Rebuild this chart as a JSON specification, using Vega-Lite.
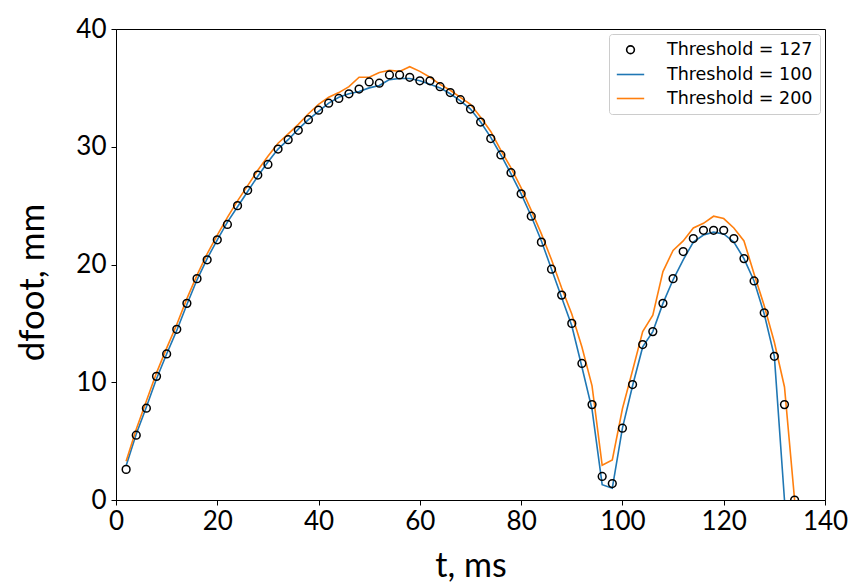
{
  "$schema": "https://vega.github.io/schema/vega-lite/v6.json",
  "width": 709,
  "height": 471,
  "autosize": {"type": "none"},
  "padding": {"left": 116, "top": 29, "right": 23, "bottom": 82},
  "background": "white",
  "config": {
    "view": {"stroke": "black", "strokeWidth": 1},
    "axis": {
      "grid": false,
      "domainColor": "black",
      "domainWidth": 1,
      "tickColor": "black",
      "tickSize": 5,
      "labelFont": "Lato",
      "labelFontSize": 26,
      "labelColor": "black",
      "titleFont": "Lato",
      "titleFontWeight": "normal",
      "titleColor": "black"
    },
    "legend": {
      "labelFont": "DejaVu Sans",
      "labelFontSize": 17.5,
      "labelColor": "black",
      "labelLimit": 400
    }
  },
  "data": {
    "values": [
      {"t": 2, "Threshold = 127": 2.6, "Threshold = 100": 2.9, "Threshold = 200": 3.3},
      {"t": 4, "Threshold = 127": 5.5, "Threshold = 100": 5.6, "Threshold = 200": 6.0},
      {"t": 6, "Threshold = 127": 7.8, "Threshold = 100": 7.9, "Threshold = 200": 8.4},
      {"t": 8, "Threshold = 127": 10.5, "Threshold = 100": 10.3, "Threshold = 200": 10.8},
      {"t": 10, "Threshold = 127": 12.4, "Threshold = 100": 12.4, "Threshold = 200": 12.9},
      {"t": 12, "Threshold = 127": 14.5, "Threshold = 100": 14.4, "Threshold = 200": 14.9},
      {"t": 14, "Threshold = 127": 16.7, "Threshold = 100": 16.6, "Threshold = 200": 17.1},
      {"t": 16, "Threshold = 127": 18.8, "Threshold = 100": 18.7, "Threshold = 200": 19.1},
      {"t": 18, "Threshold = 127": 20.4, "Threshold = 100": 20.5, "Threshold = 200": 20.9},
      {"t": 20, "Threshold = 127": 22.1, "Threshold = 100": 22.1, "Threshold = 200": 22.5},
      {"t": 22, "Threshold = 127": 23.4, "Threshold = 100": 23.6, "Threshold = 200": 24.0},
      {"t": 24, "Threshold = 127": 25.0, "Threshold = 100": 24.9, "Threshold = 200": 25.4},
      {"t": 26, "Threshold = 127": 26.3, "Threshold = 100": 26.2, "Threshold = 200": 26.7},
      {"t": 28, "Threshold = 127": 27.6, "Threshold = 100": 27.5, "Threshold = 200": 28.0},
      {"t": 30, "Threshold = 127": 28.5, "Threshold = 100": 28.7, "Threshold = 200": 29.2},
      {"t": 32, "Threshold = 127": 29.8, "Threshold = 100": 29.8, "Threshold = 200": 30.3},
      {"t": 34, "Threshold = 127": 30.6, "Threshold = 100": 30.6, "Threshold = 200": 31.1},
      {"t": 36, "Threshold = 127": 31.4, "Threshold = 100": 31.5, "Threshold = 200": 31.9},
      {"t": 38, "Threshold = 127": 32.3, "Threshold = 100": 32.3, "Threshold = 200": 32.8},
      {"t": 40, "Threshold = 127": 33.1, "Threshold = 100": 33.0, "Threshold = 200": 33.6},
      {"t": 42, "Threshold = 127": 33.7, "Threshold = 100": 33.7, "Threshold = 200": 34.2},
      {"t": 44, "Threshold = 127": 34.1, "Threshold = 100": 34.2, "Threshold = 200": 34.6},
      {"t": 46, "Threshold = 127": 34.5, "Threshold = 100": 34.5, "Threshold = 200": 35.1},
      {"t": 48, "Threshold = 127": 34.9, "Threshold = 100": 34.7, "Threshold = 200": 35.9},
      {"t": 50, "Threshold = 127": 35.5, "Threshold = 100": 35.0, "Threshold = 200": 35.9},
      {"t": 52, "Threshold = 127": 35.4, "Threshold = 100": 35.2, "Threshold = 200": 36.3},
      {"t": 54, "Threshold = 127": 36.1, "Threshold = 100": 35.7, "Threshold = 200": 36.5},
      {"t": 56, "Threshold = 127": 36.1, "Threshold = 100": 35.8, "Threshold = 200": 36.4},
      {"t": 58, "Threshold = 127": 35.9, "Threshold = 100": 35.8, "Threshold = 200": 36.8},
      {"t": 60, "Threshold = 127": 35.6, "Threshold = 100": 35.6, "Threshold = 200": 36.4},
      {"t": 62, "Threshold = 127": 35.6, "Threshold = 100": 35.3, "Threshold = 200": 35.9},
      {"t": 64, "Threshold = 127": 35.1, "Threshold = 100": 35.0, "Threshold = 200": 35.3},
      {"t": 66, "Threshold = 127": 34.6, "Threshold = 100": 34.5, "Threshold = 200": 34.8},
      {"t": 68, "Threshold = 127": 34.0, "Threshold = 100": 33.9, "Threshold = 200": 34.2},
      {"t": 70, "Threshold = 127": 33.2, "Threshold = 100": 33.2, "Threshold = 200": 33.6},
      {"t": 72, "Threshold = 127": 32.1, "Threshold = 100": 32.1, "Threshold = 200": 32.5},
      {"t": 74, "Threshold = 127": 30.7, "Threshold = 100": 30.8, "Threshold = 200": 31.3},
      {"t": 76, "Threshold = 127": 29.3, "Threshold = 100": 29.3, "Threshold = 200": 29.7},
      {"t": 78, "Threshold = 127": 27.8, "Threshold = 100": 27.7, "Threshold = 200": 28.2},
      {"t": 80, "Threshold = 127": 26.0, "Threshold = 100": 26.0, "Threshold = 200": 26.5},
      {"t": 82, "Threshold = 127": 24.1, "Threshold = 100": 24.1, "Threshold = 200": 24.6},
      {"t": 84, "Threshold = 127": 21.9, "Threshold = 100": 22.0, "Threshold = 200": 22.6},
      {"t": 86, "Threshold = 127": 19.6, "Threshold = 100": 19.6, "Threshold = 200": 20.4},
      {"t": 88, "Threshold = 127": 17.4, "Threshold = 100": 17.2, "Threshold = 200": 18.0},
      {"t": 90, "Threshold = 127": 15.0, "Threshold = 100": 14.8, "Threshold = 200": 15.8},
      {"t": 92, "Threshold = 127": 11.6, "Threshold = 100": 11.3, "Threshold = 200": 13.0},
      {"t": 94, "Threshold = 127": 8.1, "Threshold = 100": 7.7, "Threshold = 200": 9.7},
      {"t": 96, "Threshold = 127": 2.0, "Threshold = 100": 1.3, "Threshold = 200": 2.95},
      {"t": 98, "Threshold = 127": 1.4, "Threshold = 100": 1.0, "Threshold = 200": 3.4},
      {"t": 100, "Threshold = 127": 6.1, "Threshold = 100": 6.1, "Threshold = 200": 7.75},
      {"t": 102, "Threshold = 127": 9.8, "Threshold = 100": 9.7, "Threshold = 200": 11.0},
      {"t": 104, "Threshold = 127": 13.2, "Threshold = 100": 13.0, "Threshold = 200": 14.3},
      {"t": 106, "Threshold = 127": 14.3, "Threshold = 100": 14.3, "Threshold = 200": 15.7},
      {"t": 108, "Threshold = 127": 16.7, "Threshold = 100": 16.7, "Threshold = 200": 19.4},
      {"t": 110, "Threshold = 127": 18.8, "Threshold = 100": 18.7, "Threshold = 200": 21.2},
      {"t": 112, "Threshold = 127": 21.1, "Threshold = 100": 20.4, "Threshold = 200": 22.0},
      {"t": 114, "Threshold = 127": 22.2, "Threshold = 100": 21.9, "Threshold = 200": 23.1},
      {"t": 116, "Threshold = 127": 22.9, "Threshold = 100": 22.5, "Threshold = 200": 23.5},
      {"t": 118, "Threshold = 127": 22.9, "Threshold = 100": 22.75, "Threshold = 200": 24.1},
      {"t": 120, "Threshold = 127": 22.9, "Threshold = 100": 22.6, "Threshold = 200": 23.9},
      {"t": 122, "Threshold = 127": 22.2, "Threshold = 100": 21.9, "Threshold = 200": 23.1},
      {"t": 124, "Threshold = 127": 20.5, "Threshold = 100": 20.5, "Threshold = 200": 22.0},
      {"t": 126, "Threshold = 127": 18.6, "Threshold = 100": 18.6, "Threshold = 200": 19.2},
      {"t": 128, "Threshold = 127": 15.9, "Threshold = 100": 15.8, "Threshold = 200": 16.5},
      {"t": 130, "Threshold = 127": 12.2, "Threshold = 100": 12.2, "Threshold = 200": 13.4},
      {"t": 132, "Threshold = 127": 8.1, "Threshold = 100": 0.0, "Threshold = 200": 9.6},
      {"t": 134, "Threshold = 127": 0.0, "Threshold = 100": null, "Threshold = 200": 0.0}
    ]
  },
  "transform": [
    {"fold": ["Threshold = 127", "Threshold = 100", "Threshold = 200"], "as": ["series", "v"]},
    {"filter": "datum.v != null"}
  ],
  "encoding": {
    "x": {
      "field": "t", "type": "quantitative",
      "scale": {"domain": [0, 140], "nice": false, "zero": false},
      "axis": {"values": [0, 20, 40, 60, 80, 100, 120, 140], "title": "t, ms", "titleFontSize": 34, "labelPadding": 3, "titleY": 76, "titleBaseline": "alphabetic", "labelFlush": false}
    },
    "y": {
      "field": "v", "type": "quantitative",
      "scale": {"domain": [0, 40], "nice": false},
      "axis": {"values": [0, 10, 20, 30, 40], "title": "dfoot, mm", "titleFontSize": 35, "labelPadding": 5, "titleX": -66, "titleY": 253, "titleAngle": -90, "titleAlign": "center", "titleBaseline": "bottom"}
    }
  },
  "layer": [
    {
      "transform": [{"filter": "datum.series != 'Threshold = 127'"}],
      "mark": {"type": "line", "strokeWidth": 1.6, "clip": true},
      "encoding": {
        "color": {
          "field": "series", "type": "nominal",
          "scale": {"domain": ["Threshold = 127", "Threshold = 100", "Threshold = 200"], "range": ["black", "#1f77b4", "#ff7f0e"]},
          "legend": {"title": null, "orient": "top-right", "offset": 5, "fillColor": "white", "strokeColor": "#cccccc", "cornerRadius": 3, "padding": 7, "labelOffset": 22, "symbolStrokeWidth": 1.6, "rowPadding": 1}
        }
      }
    },
    {
      "transform": [{"filter": "datum.series == 'Threshold = 127'"}],
      "mark": {"type": "point", "filled": false, "strokeWidth": 1.5, "opacity": 1, "clip": true},
      "encoding": {
        "color": {
          "field": "series", "type": "nominal",
          "scale": {"domain": ["Threshold = 127", "Threshold = 100", "Threshold = 200"], "range": ["black", "#1f77b4", "#ff7f0e"]},
          "legend": {"title": null}
        },
        "shape": {
          "field": "series", "type": "nominal",
          "scale": {"domain": ["Threshold = 127", "Threshold = 100", "Threshold = 200"], "range": ["circle", "stroke", "stroke"]},
          "legend": {"title": null}
        },
        "size": {
          "field": "series", "type": "nominal",
          "scale": {"type": "ordinal", "domain": ["Threshold = 127", "Threshold = 100", "Threshold = 200"], "range": [60, 750, 750]},
          "legend": {"title": null}
        }
      }
    }
  ]
}
